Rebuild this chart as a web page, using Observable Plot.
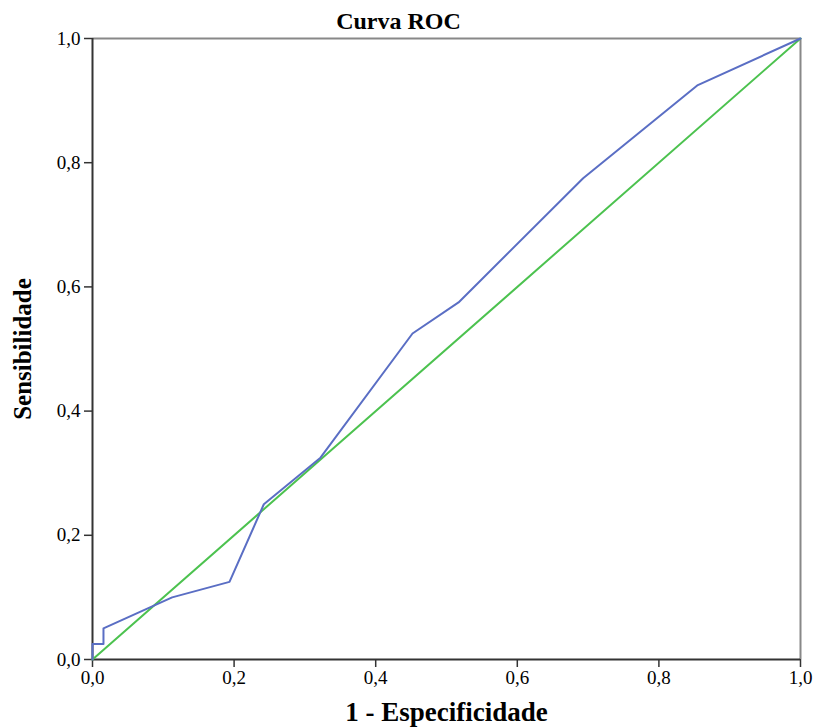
<!DOCTYPE html>
<html>
<head>
<meta charset="utf-8">
<script src="https://cdn.jsdelivr.net/npm/d3@7"></script>
<script src="https://cdn.jsdelivr.net/npm/@observablehq/plot@0.6"></script>
<style>
  body { margin: 0; background: #fff; }
  #chart { width: 816px; height: 728px; }
</style>
</head>
<body>
<div id="chart"></div>
<script>
// Data
const rocFpr  = [0, 0, 0.0155, 0.0155, 0.1125, 0.1935, 0.242, 0.322, 0.452, 0.517, 0.693, 0.855, 1];
const rocTpr  = [0, 0.025, 0.025, 0.05, 0.10, 0.125, 0.25, 0.325, 0.525, 0.575, 0.775, 0.925, 1];
const refX    = [0, 1];
const refY    = [0, 1];
const axisTicks = [0, 0.2, 0.4, 0.6, 0.8, 1.0];
const titleText = "Curva ROC";
const xLabel = "1 - Especificidade";
const yLabel = "Sensibilidade";

const roc = rocFpr.map((x, i) => ({x, y: rocTpr[i]}));
const ref = refX.map((x, i) => ({x, y: refY[i]}));
const fmt = d => d3.format(".1f")(d).replace(".", ",");

const chart = Plot.plot({
  width: 816,
  height: 728,
  marginLeft: 92,
  marginRight: 16,
  marginTop: 38,
  marginBottom: 69,
  style: { fontFamily: "'Liberation Serif', 'DejaVu Serif', serif", fontSize: "19px", color: "#000", background: "#fff" },
  x: { domain: [0, 1], label: null },
  y: { domain: [0, 1], label: null },
  marks: [
    Plot.axisX(axisTicks, { tickFormat: fmt, tickSize: 8, tickPadding: 3, fontSize: 19, stroke: "#333", strokeWidth: 1.5, label: null }),
    Plot.axisY(axisTicks, { tickFormat: fmt, tickSize: 8, tickPadding: 4, fontSize: 19, stroke: "#333", strokeWidth: 1.5, label: null }),
    Plot.ruleY([1], { stroke: "#888", strokeWidth: 2 }),
    Plot.ruleX([1], { stroke: "#888", strokeWidth: 2 }),
    Plot.ruleX([0], { stroke: "#333", strokeWidth: 2 }),
    Plot.ruleY([0], { stroke: "#333", strokeWidth: 2 }),
    Plot.line(ref, { x: "x", y: "y", stroke: "#4cc24f", strokeWidth: 2 }),
    Plot.line(roc, { x: "x", y: "y", stroke: "#5a6ec4", strokeWidth: 2 }),
    Plot.text([titleText], { frameAnchor: "top", dx: -48, dy: -27, fontWeight: "bold", fontSize: 24, fill: "#000" }),
    Plot.text([xLabel], { frameAnchor: "bottom", dx: 0, dy: 61, fontWeight: "bold", fontSize: 27, fill: "#000" }),
    Plot.text([yLabel], { frameAnchor: "left", dx: -70, rotate: -90, textAnchor: "middle", fontWeight: "bold", fontSize: 25, fill: "#000" })
  ]
});
document.getElementById("chart").appendChild(chart);
</script>
</body>
</html>
